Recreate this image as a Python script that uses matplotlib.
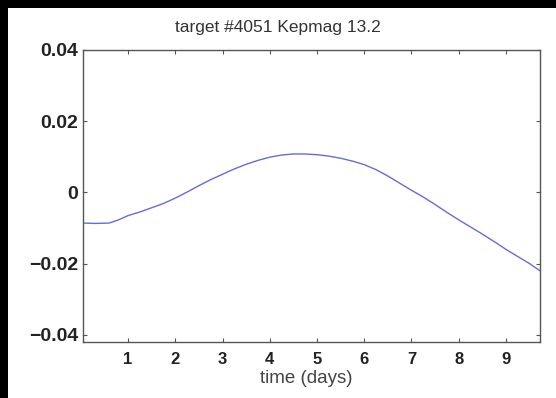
from matplotlib import pyplot as plt
from matplotlib.patches import Rectangle

# light curve of target #4051
time_days = [0.05, 0.3, 0.6, 0.8, 1.0, 1.25, 1.5, 1.75, 2.0, 2.25, 2.5, 2.75,
             3.0, 3.25, 3.5, 3.75, 4.0, 4.25, 4.5, 4.75, 5.0, 5.25, 5.5, 5.75,
             6.0, 6.25, 6.5, 6.75, 7.0, 7.25, 7.5, 7.75, 8.0, 8.25, 8.5, 8.75,
             9.0, 9.25, 9.5, 9.72]
flux = [-0.0086, -0.0087, -0.0086, -0.0077, -0.0065, -0.0055, -0.0043, -0.0031,
        -0.0016, 0.0001, 0.0019, 0.0036, 0.0051, 0.0066, 0.0079, 0.0090,
        0.0099, 0.0105, 0.0108, 0.0108, 0.0106, 0.0102, 0.0096, 0.0088,
        0.0078, 0.0064, 0.0046, 0.0026, 0.0006, -0.0013, -0.0034, -0.0056,
        -0.0077, -0.0097, -0.0117, -0.0138, -0.0160, -0.0180, -0.0200, -0.0220]
xticks = [1, 2, 3, 4, 5, 6, 7, 8, 9]
yticks = [-0.04, -0.02, 0, 0.02, 0.04]
ytick_labels = ['\u22120.04', '\u22120.02', '0', '0.02', '0.04']

plt.rcParams['font.family'] = ['Liberation Sans', 'DejaVu Sans']

fig = plt.figure(figsize=(5.56, 3.98), dpi=100)
fig.patch.set_facecolor('black')
fig.add_artist(Rectangle((8 / 556, 0), 1, 390 / 398, transform=fig.transFigure,
                         facecolor='white', edgecolor='none', zorder=0))

ax = fig.add_axes([83 / 556, 56 / 398, 457 / 556, 292 / 398])
ax.plot(time_days, flux, color='#6a6ad8', linewidth=1.0)

ax.set_xlim(0.047, 9.72)
ax.set_ylim(-0.042, 0.04)
ax.set_xticks(xticks)
ax.set_xticklabels([str(t) for t in xticks], fontweight='bold', fontsize=12,
                   color='#222222')
ax.set_yticks(yticks)
ax.set_yticklabels(ytick_labels, fontweight='bold', fontsize=14,
                   color='#222222')
ax.tick_params(direction='in', length=3, width=0.8, color='#555555',
               top=True, right=True)
ax.tick_params(axis='x', pad=7)
ax.tick_params(axis='y', pad=3.5)

for s in ax.spines.values():
    s.set_color('#555555')
    s.set_linewidth(1.0)

fig.text(278 / 556, (398 - 32) / 398, 'target #4051 Kepmag 13.2',
         fontsize=12.5, ha='center', va='baseline', color='#333333')
ax.set_xlabel('time (days)', fontsize=13.5, color='#444444', labelpad=3)
ax.xaxis.set_label_coords(0.489, -0.095)

plt.savefig('out.png', dpi=100, facecolor=fig.get_facecolor())
